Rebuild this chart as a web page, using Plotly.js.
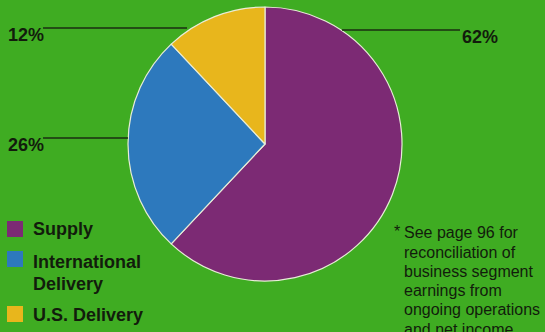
<!DOCTYPE html>
<html>
<head>
<meta charset="utf-8">
<script src="https://cdn.plot.ly/plotly-3.0.1.min.js"></script>
<style>html,body{margin:0;padding:0;background:#3fac22;}#chart{width:545px;height:332px;}</style>
</head>
<body>
<div id="chart"></div>
<script>
const segments = ["Supply", "International<br>Delivery", "U.S. Delivery"];
const shares = [62, 26, 12];
const colors = ["#7c2a74", "#2d79bd", "#e8b61c"];
const footnote = ["See page 96 for", "reconciliation of", "business segment", "earnings from", "ongoing operations", "and net income."];

const W = 545, H = 332;
const px = x => x / W;
const py = y => 1 - y / H;
const BG = "#3fac22";
const INK = "#121c0c";
const FONT = "Liberation Sans, Arial, Helvetica, sans-serif";

// pie geometry (pixels)
const cx = 265, cy = 144, r = 137;

const trace = {
  type: "pie",
  labels: segments,
  values: shares,
  sort: false,
  direction: "clockwise",
  rotation: 0,
  textinfo: "none",
  hoverinfo: "label+percent",
  marker: {colors: colors, line: {color: "#e8ecd8", width: 1.2}},
  domain: {x: [px(cx - r), px(cx + r)], y: [py(cy + r), py(cy - r)]},
  showlegend: false
};

// percent label placement (pixels)
const labelPos = [
  {lx: 460, ly: 37.5, x0: 342, x1: 460, y: 30},
  {lx: 6, ly: 145, x0: 43, x1: 128, y: 138},
  {lx: 6, ly: 35, x0: 43, x1: 187, y: 28}
];

const annotations = [];
const shapes = [];
shares.forEach((v, i) => {
  const p = labelPos[i];
  annotations.push({
    xref: "paper", yref: "paper", x: px(p.lx), y: py(p.ly),
    xanchor: "left", yanchor: "middle", showarrow: false,
    text: "<b>" + v + "%</b>", font: {family: FONT, size: 18, color: INK}
  });
  shapes.push({type: "line", xref: "paper", yref: "paper",
    x0: px(p.x0), x1: px(p.x1), y0: py(p.y), y1: py(p.y),
    line: {color: "#1b2e12", width: 1.5}});
});

// legend (manual)
const legendRows = [
  {sy: 221, lines: [229]},
  {sy: 251, lines: [262, 284]},
  {sy: 306, lines: [315]}
];
segments.forEach((name, i) => {
  const row = legendRows[i];
  shapes.push({type: "rect", xref: "paper", yref: "paper",
    x0: px(7), x1: px(23), y0: py(row.sy + 16), y1: py(row.sy),
    fillcolor: colors[i], line: {width: 0}});
  const parts = name.split("<br>");
  parts.forEach((t, j) => {
    annotations.push({
      xref: "paper", yref: "paper", x: px(31), y: py(row.lines[j]),
      xanchor: "left", yanchor: "middle", showarrow: false,
      text: "<b>" + t + "</b>", font: {family: FONT, size: 18, color: INK}
    });
  });
});

// footnote
annotations.push({
  xref: "paper", yref: "paper", x: px(392), y: py(231),
  xanchor: "left", yanchor: "middle", showarrow: false,
  text: "*", font: {family: FONT, size: 16, color: INK}
});
footnote.forEach((t, j) => {
  annotations.push({
    xref: "paper", yref: "paper", x: px(402), y: py(233 + j * 19.2),
    xanchor: "left", yanchor: "middle", showarrow: false,
    text: t, font: {family: FONT, size: 16, color: INK}
  });
});

const layout = {
  width: W, height: H,
  margin: {l: 0, r: 0, t: 0, b: 0},
  paper_bgcolor: BG, plot_bgcolor: BG,
  showlegend: false,
  annotations: annotations,
  shapes: shapes
};

Plotly.newPlot("chart", [trace], layout, {displayModeBar: false, staticPlot: true});
</script>
</body>
</html>
